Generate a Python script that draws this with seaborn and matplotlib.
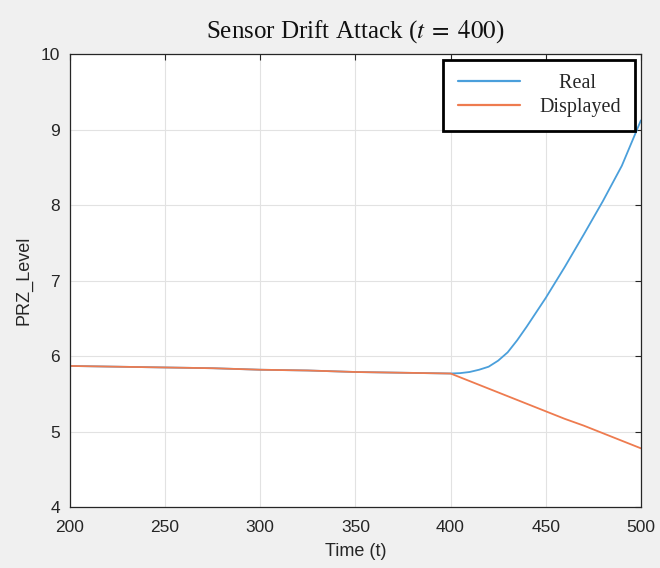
import pandas as pd
import matplotlib
matplotlib.use('Agg')
import matplotlib.pyplot as plt
import seaborn as sns

# values
time = [200, 225, 250, 275, 300, 325, 350, 375, 400,
        405, 410, 415, 420, 425, 430, 435, 440, 445, 450,
        460, 470, 480, 490, 500]
real = [5.87, 5.86, 5.85, 5.84, 5.82, 5.81, 5.79, 5.78, 5.77,
        5.775, 5.79, 5.82, 5.86, 5.94, 6.05, 6.21, 6.39, 6.58, 6.77,
        7.18, 7.61, 8.05, 8.52, 9.12]
displayed = [5.87, 5.86, 5.85, 5.84, 5.82, 5.81, 5.79, 5.78, 5.77,
             5.72, 5.67, 5.62, 5.57, 5.52, 5.47, 5.42, 5.37, 5.32, 5.27,
             5.17, 5.08, 4.98, 4.88, 4.78]
series_names = ['Real', 'Displayed']
x_ticks = [200, 250, 300, 350, 400, 450, 500]
y_ticks = [4, 5, 6, 7, 8, 9, 10]

df = pd.DataFrame({
    'Time (t)': time * 2,
    'PRZ_Level': real + displayed,
    'Series': [series_names[0]] * len(time) + [series_names[1]] * len(time),
})

sns.set_style('whitegrid')
plt.rcParams['font.family'] = ['Liberation Sans', 'DejaVu Sans']
plt.rcParams['mathtext.fontset'] = 'stix'

fig = plt.figure(figsize=(6.6, 5.68), dpi=100, facecolor='#f0f0f0')
ax = fig.add_axes([0.106, 0.107, 0.865, 0.798])
ax.set_facecolor('white')

sns.lineplot(data=df, x='Time (t)', y='PRZ_Level', hue='Series',
             palette={'Real': '#4a9fdb', 'Displayed': '#ee7b4f'},
             linewidth=1.3, ax=ax)

ax.set_xlim(200, 500)
ax.set_ylim(4, 10)
ax.set_xticks(x_ticks)
ax.set_yticks(y_ticks)
ax.grid(True, color='#e2e2e2', linewidth=0.8)
ax.tick_params(direction='in', length=4, color='#262626', labelsize=12.5,
               labelcolor='#262626', top=True, right=True, pad=9)
ax.tick_params(axis='y', pad=7)
for s in ax.spines.values():
    s.set_color('#262626')
    s.set_linewidth(0.9)

ax.set_xlabel('Time (t)', fontsize=13, color='#262626', labelpad=6)
ax.set_ylabel('PRZ_Level', fontsize=13, color='#262626', labelpad=6)
ax.set_title(r'Sensor Drift Attack ($t\;=\;400$)', fontsize=18,
             family='Liberation Serif', color='#111111', pad=12)

leg = ax.legend(loc='upper right', frameon=True, fancybox=False,
                prop={'family': 'Liberation Serif', 'size': 14.5},
                handlelength=3.1, handletextpad=0.95, borderpad=0.7,
                borderaxespad=0.3, labelspacing=0.25)
leg.get_frame().set_edgecolor('black')
leg.get_frame().set_linewidth(2.0)
leg.get_frame().set_alpha(1)
for line in leg.get_lines():
    line.set_linewidth(1.6)
# MATLAB centres the shorter legend entry
leg.get_texts()[0].set_text('    ' + series_names[0])

fig.savefig('out.png', dpi=100, facecolor=fig.get_facecolor())
